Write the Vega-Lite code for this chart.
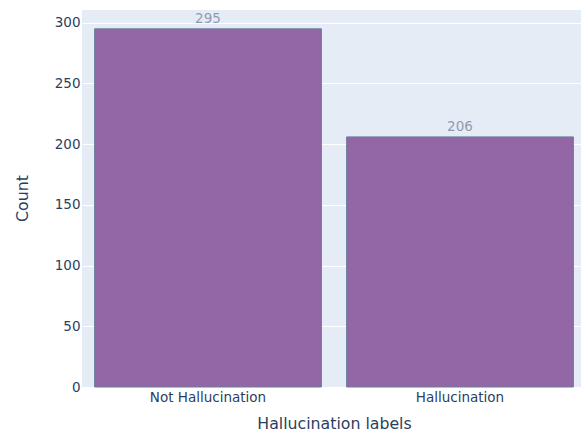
{
  "$schema": "https://vega.github.io/schema/vega-lite/v6.json",
  "width": 504,
  "height": 377,
  "autosize": {"type": "none"},
  "padding": {"left": 82, "top": 10, "right": 0, "bottom": 50},
  "background": "white",
  "config": {
    "view": {"fill": "#E5ECF6", "stroke": null},
    "font": "DejaVu Sans",
    "axis": {
      "labelFont": "DejaVu Sans",
      "titleFont": "DejaVu Sans",
      "labelColor": "#2a3f5f",
      "titleColor": "#2a3f5f",
      "labelFontSize": 13.5,
      "titleFontSize": 15.75,
      "titleFontWeight": "normal",
      "domain": false,
      "ticks": false
    }
  },
  "data": {
    "values": [
      {"label": "Not Hallucination", "count": 295},
      {"label": "Hallucination", "count": 206}
    ]
  },
  "encoding": {
    "x": {
      "field": "label",
      "type": "nominal",
      "sort": null,
      "title": "Hallucination labels",
      "scale": {"paddingInner": 0.1, "paddingOuter": 0.05},
      "axis": {"labelAngle": 0, "labelPadding": 3, "titlePadding": 13, "grid": false}
    },
    "y": {
      "field": "count",
      "type": "quantitative",
      "title": "Count",
      "scale": {"domain": [0, 310.5], "nice": false, "zero": true},
      "axis": {
        "values": [0, 50, 100, 150, 200, 250, 300],
        "gridColor": "white",
        "gridWidth": 1,
        "labelPadding": 2,
        "titleX": -55,
        "titleY": 188,
        "titleAngle": -90,
        "titleBaseline": "alphabetic"
      }
    }
  },
  "layer": [
    {
      "mark": {"type": "bar", "fill": "#9366a5", "stroke": "#6a7f9c", "strokeWidth": 1}
    },
    {
      "mark": {"type": "text", "baseline": "bottom", "dy": -3, "fontSize": 13.5, "color": "#8f9cb0", "font": "DejaVu Sans"},
      "encoding": {"text": {"field": "count", "type": "quantitative"}}
    }
  ]
}
